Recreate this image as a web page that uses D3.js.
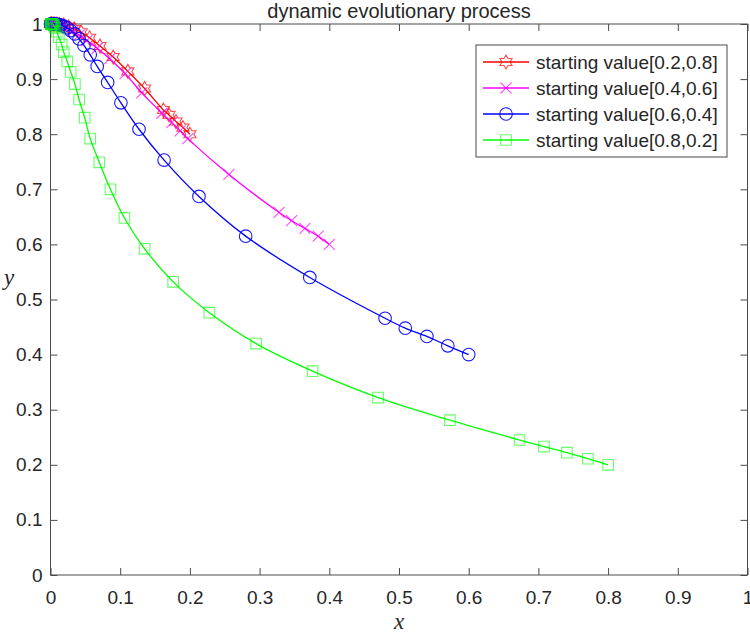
<meta charset="utf-8">
<style>
    body { margin: 0; background: #fff; }
    text { font-family: "Liberation Sans", Arial, Helvetica, sans-serif; fill: #262626; }
    .lbl { font-family: "Liberation Serif", "Times New Roman", serif; font-style: italic; }
</style>
<body>
<script src="https://cdn.jsdelivr.net/npm/d3@7/dist/d3.min.js"></script>
<script>

    // values
    const legendNames = ["starting value[0.2,0.8]", "starting value[0.4,0.6]",
                         "starting value[0.6,0.4]", "starting value[0.8,0.2]"];

    const redX = [0.2, 0.19, 0.18, 0.17, 0.162, 0.135, 0.111, 0.09, 0.071, 0.056, 0.044, 0.034, 0.026, 0.019, 0.013, 0.009, 0.006, 0.004, 0.002, 0.001, 0];
    const redY = [0.8, 0.812, 0.823, 0.835, 0.844, 0.883, 0.914, 0.940, 0.960, 0.975, 0.985, 0.991, 0.995, 0.998, 0.999, 1, 1, 1, 1, 1, 1];

    const magX = [0.4, 0.384, 0.365, 0.346, 0.328, 0.256, 0.197, 0.186, 0.174, 0.160, 0.131, 0.107, 0.085, 0.067, 0.052, 0.041, 0.032, 0.024, 0.018, 0.013, 0.009, 0.006, 0.004, 0.002, 0.001, 0];
    const magY = [0.6, 0.615, 0.629, 0.643, 0.658, 0.727, 0.792, 0.806, 0.821, 0.838, 0.875, 0.910, 0.937, 0.956, 0.970, 0.980, 0.987, 0.992, 0.996, 0.998, 0.999, 1, 1, 1, 1, 1];

    const blueX = [0.6, 0.570, 0.540, 0.509, 0.480, 0.372, 0.280, 0.213, 0.163, 0.127, 0.101, 0.082, 0.067, 0.057, 0.048, 0.041, 0.035, 0.029, 0.024, 0.019, 0.015, 0.012, 0.009, 0.007, 0.005, 0.0035, 0.0025, 0.0015, 0.0008, 0];
    const blueY = [0.4, 0.416, 0.433, 0.448, 0.466, 0.540, 0.615, 0.687, 0.753, 0.809, 0.857, 0.894, 0.923, 0.944, 0.961, 0.973, 0.982, 0.988, 0.993, 0.996, 0.998, 0.999, 1, 1, 1, 1, 1, 1, 1, 1];

    const greenX = [0.8, 0.771, 0.741, 0.708, 0.673, 0.573, 0.470, 0.376, 0.295, 0.228, 0.176, 0.135, 0.106, 0.086, 0.070, 0.057, 0.049, 0.041, 0.035, 0.029, 0.024, 0.019, 0.016, 0.012, 0.009, 0.0065, 0.005, 0.004, 0.003, 0.002, 0.0013, 0.0007, 0];
    const greenY = [0.2, 0.211, 0.222, 0.233, 0.245, 0.281, 0.322, 0.370, 0.420, 0.476, 0.532, 0.592, 0.648, 0.700, 0.749, 0.792, 0.830, 0.863, 0.891, 0.913, 0.932, 0.949, 0.963, 0.976, 0.986, 0.993, 0.997, 0.999, 1, 1, 1, 1, 1];

    const ticks = [0, 0.1, 0.2, 0.3, 0.4, 0.5, 0.6, 0.7, 0.8, 0.9, 1];
    const tickLabels = ["0", "0.1", "0.2", "0.3", "0.4", "0.5", "0.6", "0.7", "0.8", "0.9", "1"];

    const series = [
        {name: legendNames[0], color: "#ff0000", marker: "hexagram", xs: redX, ys: redY, mo: 0.7},
        {name: legendNames[1], color: "#ff00ff", marker: "cross", xs: magX, ys: magY, mo: 0.7},
        {name: legendNames[2], color: "#0000ff", marker: "circle", xs: blueX, ys: blueY, mo: 0.9},
        {name: legendNames[3], color: "#00ff00", marker: "square", xs: greenX, ys: greenY, mo: 0.6}
    ];

    const width = 750, height = 633;
    const mLeft = 50.5, mRight = 747.5, mTop = 24, mBottom = 575;

    const svg = d3.select("body").append("svg")
        .attr("width", width)
        .attr("height", height);

    const x = d3.scaleLinear().domain([0, 1]).range([mLeft, mRight]);
    const y = d3.scaleLinear().domain([0, 1]).range([mBottom, mTop]);

    function fmt(d) { return tickLabels[ticks.indexOf(d)]; }

    // axes, ticks pointing inward
    const axisColor = "#4a4a4a";
    function styleAxis(g) {
        g.select(".domain").remove();
        g.selectAll(".tick line").attr("stroke", axisColor).attr("stroke-width", 1);
        g.selectAll(".tick text").style("font-size", "19px").attr("fill", "#262626");
    }
    svg.append("g").attr("transform", "translate(0," + mBottom + ")")
        .call(d3.axisBottom(x).tickValues(ticks).tickFormat(fmt).tickSize(-7).tickPadding(16))
        .call(styleAxis);
    svg.append("g").attr("transform", "translate(" + mLeft + ",0)")
        .call(d3.axisLeft(y).tickValues(ticks).tickFormat(fmt).tickSize(-7).tickPadding(8))
        .call(styleAxis);
    svg.append("g").attr("transform", "translate(0," + mTop + ")")
        .call(d3.axisTop(x).tickValues(ticks).tickFormat("").tickSize(-7))
        .call(styleAxis);
    svg.append("g").attr("transform", "translate(" + mRight + ",0)")
        .call(d3.axisRight(y).tickValues(ticks).tickFormat("").tickSize(-7))
        .call(styleAxis);

    svg.append("rect")
        .attr("x", mLeft).attr("y", mTop)
        .attr("width", mRight - mLeft).attr("height", mBottom - mTop)
        .attr("fill", "none").attr("stroke", axisColor).attr("stroke-width", 1);

    // marker shapes
    function markerPath(type) {
        if (type === "circle") return d3.symbol(d3.symbolCircle, 125)();
        if (type === "square") return "M-5.3,-5.3H5.3V5.3H-5.3Z";
        if (type === "cross") return "M-5.5,-5.5L5.5,5.5M-5.5,5.5L5.5,-5.5";
        // hexagram outline
        const p = d3.path();
        for (let k = 0; k < 12; k++) {
            const r = k % 2 === 0 ? 7 : 7 / Math.sqrt(3);
            const a = -Math.PI / 2 + k * Math.PI / 6;
            if (k === 0) p.moveTo(r * Math.cos(a), r * Math.sin(a));
            else p.lineTo(r * Math.cos(a), r * Math.sin(a));
        }
        p.closePath();
        return p.toString();
    }

    const line = d3.line()
        .x(d => x(d[0]))
        .y(d => y(d[1]))
        .curve(d3.curveCatmullRom.alpha(0.5));

    series.forEach(function (s) {
        const pts = s.xs.map((v, i) => [v, s.ys[i]]);
        const g = svg.append("g");
        g.append("path")
            .attr("d", line(pts))
            .attr("fill", "none")
            .attr("stroke", s.color)
            .attr("stroke-width", 1.3);
        g.selectAll(".m").data(pts).enter().append("path")
            .attr("transform", d => "translate(" + x(d[0]) + "," + y(d[1]) + ")")
            .attr("d", markerPath(s.marker))
            .attr("fill", "none")
            .attr("stroke", s.color)
            .attr("stroke-opacity", s.mo)
            .attr("stroke-width", 1.1);
    });

    // title and axis labels
    svg.append("text")
        .attr("x", (mLeft + mRight) / 2).attr("y", 18)
        .attr("text-anchor", "middle")
        .style("font-size", "20px")
        .text("dynamic evolutionary process");

    svg.append("text").attr("class", "lbl")
        .attr("x", (mLeft + mRight) / 2).attr("y", 629)
        .attr("text-anchor", "middle")
        .style("font-size", "23px")
        .text("x");

    svg.append("text").attr("class", "lbl")
        .attr("x", 9).attr("y", 285)
        .attr("text-anchor", "middle")
        .style("font-size", "23px")
        .text("y");

    // legend
    const lg = svg.append("g");
    lg.append("rect")
        .attr("x", 476).attr("y", 45)
        .attr("width", 251).attr("height", 112)
        .attr("fill", "#fff").attr("stroke", axisColor).attr("stroke-width", 1);

    series.forEach(function (s, i) {
        const cy = 62 + i * 26;
        lg.append("line")
            .attr("x1", 483).attr("x2", 529)
            .attr("y1", cy).attr("y2", cy)
            .attr("stroke", s.color).attr("stroke-width", 1.3);
        lg.append("path")
            .attr("transform", "translate(506," + cy + ")")
            .attr("d", markerPath(s.marker))
            .attr("fill", "none")
            .attr("stroke", s.color)
            .attr("stroke-opacity", s.mo)
            .attr("stroke-width", 1.1);
        lg.append("text")
            .attr("x", 536).attr("y", cy)
            .attr("dy", "0.35em")
            .style("font-size", "19px")
            .text(s.name);
    });

</script>
</body>
